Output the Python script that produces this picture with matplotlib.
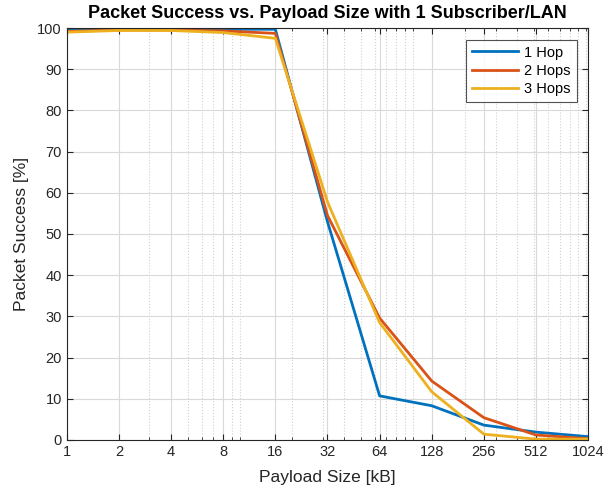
import matplotlib.pyplot as plt
from matplotlib.ticker import FixedLocator, NullFormatter

# Payload sizes in kB and packet success in percent
payload = [1, 2, 4, 8, 16, 32, 64, 128, 256, 512, 1024]
hop1 = [99.6, 99.7, 99.7, 99.7, 99.7, 53.0, 10.7, 8.3, 3.6, 1.9, 0.8]
hop2 = [99.2, 99.5, 99.5, 99.3, 98.7, 54.5, 29.6, 14.3, 5.4, 1.2, 0.3]
hop3 = [99.0, 99.4, 99.4, 98.9, 97.5, 57.8, 28.5, 11.7, 1.4, 0.2, 0.2]

plt.rcParams['font.family'] = ['Liberation Sans', 'DejaVu Sans']

fig = plt.figure(figsize=(6.07, 4.96), dpi=100)
ax = fig.add_axes([0.110, 0.113, 0.859, 0.8305])

ax.plot(payload, hop1, color=(0, 0.447, 0.741), lw=2, label='1 Hop')
ax.plot(payload, hop2, color=(0.85, 0.325, 0.098), lw=2, label='2 Hops')
ax.plot(payload, hop3, color=(0.929, 0.694, 0.125), lw=2, label='3 Hops')

ax.set_xscale('log', base=2)
ax.set_xlim(1, 1024)
ax.set_ylim(0, 100)
ax.set_xticks(payload)
ax.set_xticklabels([str(p) for p in payload])
# decade-style minor ticks (3, 5, 6, 7, 9, 10, 20, ...)
minor = [m * 10**k for k in range(4) for m in range(1, 10)
         if 1 < m * 10**k < 1024 and m * 10**k not in payload]
ax.xaxis.set_minor_locator(FixedLocator(minor))
ax.xaxis.set_minor_formatter(NullFormatter())
ax.set_yticks(range(0, 101, 10))

ax.grid(True, which='major', color='#d9d9d9', lw=0.8)
ax.grid(True, which='minor', axis='x', color='#d0d0d0', lw=0.8, ls=':')
ax.set_axisbelow(True)
ax.tick_params(which='both', direction='in', top=True, right=True, labelsize=10.5, colors='#262626')
ax.tick_params(which='major', length=4)
ax.tick_params(which='minor', length=2.5)
for s in ax.spines.values():
    s.set_color('#262626')
    s.set_linewidth(0.8)

ax.set_title('Packet Success vs. Payload Size with 1 Subscriber/LAN', fontsize=13, fontweight='bold', pad=7)
ax.set_xlabel('Payload Size [kB]', fontsize=12.5, color='#262626', labelpad=8)
ax.set_ylabel('Packet Success [%]', fontsize=12.5, color='#262626', labelpad=6)

leg = ax.legend(loc='upper right', fontsize=10.5, fancybox=False, edgecolor='#262626',
                borderaxespad=0.8, handlelength=3.2, handletextpad=0.4, labelspacing=0.3)
leg.get_frame().set_linewidth(0.8)

fig.savefig('out.png', dpi=100)
